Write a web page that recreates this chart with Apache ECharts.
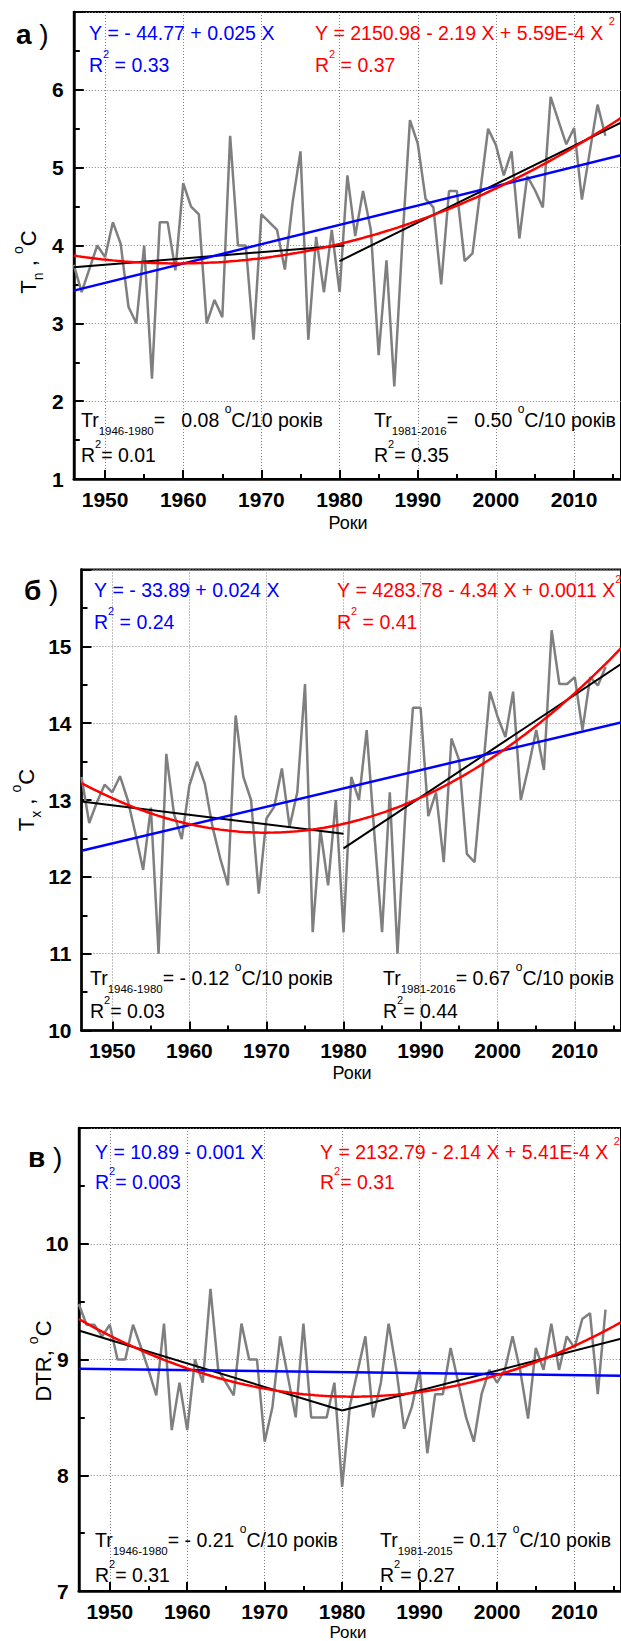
<!DOCTYPE html>
<html>
<head>
<meta charset="utf-8">
<script src="https://cdn.jsdelivr.net/npm/echarts@6/dist/echarts.min.js"></script>
<style>
html,body{margin:0;padding:0;background:#fff;}
#chart{width:621px;height:1641px;}
</style>
</head>
<body>
<div id="chart"></div>
<script>
// ---------------- data ----------------
const years = [1946,1947,1948,1949,1950,1951,1952,1953,1954,1955,1956,1957,1958,1959,1960,1961,1962,1963,1964,1965,
  1966,1967,1968,1969,1970,1971,1972,1973,1974,1975,1976,1977,1978,1979,1980,1981,1982,1983,1984,1985,
  1986,1987,1988,1989,1990,1991,1992,1993,1994,1995,1996,1997,1998,1999,2000,2001,2002,2003,2004,2005,
  2006,2007,2008,2009,2010,2011,2012,2013,2014];

const tnValues = [3.75,3.40,3.70,4.00,3.85,4.30,4.02,3.21,3.00,4.00,2.29,4.30,4.30,3.68,4.80,4.50,4.40,3.00,3.30,3.08,
  5.41,4.00,4.00,2.79,4.40,4.30,4.20,3.69,4.56,5.21,2.79,4.11,3.40,4.20,3.40,4.90,4.12,4.70,4.20,2.59,
  3.81,2.19,4.00,5.61,5.31,4.60,4.49,3.50,4.70,4.70,3.80,3.90,4.70,5.50,5.29,4.90,5.21,4.09,4.89,4.71,
  4.49,5.91,5.60,5.30,5.51,4.59,5.20,5.81,5.41];

const txValues = [13.30,12.70,12.97,13.20,13.10,13.31,13.00,12.56,12.09,12.90,11.00,13.60,12.82,12.49,13.19,13.50,13.21,12.65,12.24,11.89,
  14.10,13.30,13.00,11.78,12.76,12.91,13.41,12.65,13.10,14.51,11.28,12.61,11.89,13.00,11.28,13.30,13.00,13.91,12.56,11.28,
  13.10,11.00,12.80,14.20,14.20,12.79,13.10,12.19,13.80,13.52,12.30,12.19,13.30,14.41,14.08,13.82,14.41,13.00,13.43,13.91,
  13.39,15.21,14.51,14.51,14.60,13.91,14.60,14.49,14.73];

const dtrValues = [9.48,9.30,9.30,9.20,9.30,9.00,9.00,9.30,9.11,8.91,8.69,9.31,8.39,8.80,8.39,9.00,8.80,9.61,8.91,8.80,
  8.69,9.31,9.00,9.00,8.29,8.59,9.20,8.85,8.50,9.31,8.50,8.50,8.50,8.80,7.90,8.60,8.90,9.20,8.50,8.80,
  9.31,8.91,8.40,8.59,8.91,8.19,8.70,8.70,9.10,8.80,8.50,8.29,8.70,8.91,8.80,8.91,9.20,8.90,8.49,9.10,
  8.91,9.31,8.91,9.20,9.10,9.35,9.40,8.70,9.43];

// tick labels
const yearTicks = [1950,1960,1970,1980,1990,2000,2010];
const yearMinorTicks = [1950,1955,1960,1965,1970,1975,1980,1985,1990,1995,2000,2005,2010,2015];

// trend lines ([year, value])
const tnLinear = [[1946,3.42],[2016,5.16]];
const tnQuad = [4.02, 0.0241, 0.00058];      // a + b(t-1980) + c(t-1980)^2
const tnSeg1 = [[1946,3.72],[1980.6,4.00]];
const tnSeg2 = [[1980,3.80],[2016,5.58]];

const txLinear = [[1946,12.34],[2016,14.01]];
const txQuad = [12.69, 0.0228, 0.00113];
const txSeg1 = [[1946,12.98],[1980,12.56]];
const txSeg2 = [[1980,12.37],[2016,14.77]];

const dtrLinear = [[1946,8.92],[2016,8.86]];
const dtrQuad = [8.68, -0.00147, 0.000536];
const dtrSeg1 = [[1946,9.25],[1980,8.56]];
const dtrSeg2 = [[1980,8.56],[2016,9.18]];

// ---------------- chart ----------------
const FF = "'Liberation Sans', Arial, Helvetica, sans-serif";
const NB = '\u00a0';
function sp(s){ return s.replace(/ /g, NB); }

function quadCurve(coef, center, from, to){
  const pts = [];
  for (let x = from; x <= to + 1e-9; x += 0.5) {
    const t = x - center;
    pts.push([x, coef[0] + coef[1]*t + coef[2]*t*t]);
  }
  return pts;
}

const layout = [
  {left:73.8, top:12,    width:563.5, height:467, min:1,  max:7},
  {left:81.5, top:569.5, width:558,   height:461, min:10, max:16},
  {left:78.8, top:1128,  width:556.5, height:463, min:7,  max:11}
];
const panelData = [
  {vals: tnValues,  lin: tnLinear,  quad: tnQuad,  s1: tnSeg1,  s2: tnSeg2},
  {vals: txValues,  lin: txLinear,  quad: txQuad,  s1: txSeg1,  s2: txSeg2},
  {vals: dtrValues, lin: dtrLinear, quad: dtrQuad, s1: dtrSeg1, s2: dtrSeg2}
];

const grids = [], xAxes = [], yAxes = [], series = [];
const dotted = {color:'#808080', width:1, type:[1,2]};

layout.forEach((L, i) => {
  grids.push({left:L.left, top:L.top, width:L.width, height:L.height,
    show:true, borderColor:'#000', borderWidth:2, backgroundColor:'transparent', containLabel:false});
  xAxes.push({
    gridIndex:i, type:'value', min:1946, max:2016, position:'bottom',
    axisLine:{show:true, onZero:false, lineStyle:{color:'#000', width:2.5}},
    axisTick:{show:true, inside:true, length:9, customValues: yearTicks, lineStyle:{color:'#000', width:2}},
    axisLabel:{show:true, customValues: yearTicks, margin:10, fontSize:21, lineHeight:20, fontWeight:'bold', color:'#000', fontFamily:FF,
      formatter: v => String(v)},
    splitLine:{show:true, lineStyle:dotted}
  });
  xAxes.push({
    gridIndex:i, type:'value', min:1946, max:2016, position:'bottom', offset:0,
    axisLine:{show:false}, axisLabel:{show:false}, splitLine:{show:false},
    axisTick:{show:true, inside:true, length:5, customValues: yearMinorTicks, lineStyle:{color:'#000', width:2}}
  });
  yAxes.push({
    gridIndex:i, type:'value', min:L.min, max:L.max, interval:1,
    axisLine:{show:true, onZero:false, lineStyle:{color:'#000', width:2.5}},
    axisTick:{show:true, inside:true, length:10, lineStyle:{color:'#000', width:2}},
    minorTick:{show:true, splitNumber:2, length:6, lineStyle:{color:'#000', width:2}},
    axisLabel:{show:true, margin:10, fontSize:21, fontWeight:'bold', color:'#000', fontFamily:FF, showMaxLabel:false},
    splitLine:{show:true, lineStyle:dotted}
  });
  const P = panelData[i];
  const base = {type:'line', xAxisIndex:2*i, yAxisIndex:i, showSymbol:false, symbol:'none', animation:false, silent:true};
  series.push(Object.assign({}, base, {data: years.map((y,k)=>[y, P.vals[k]]), lineStyle:{color:'#7f7f7f', width:2.5}, z:2}));
  series.push(Object.assign({}, base, {data: P.s1, lineStyle:{color:'#000', width:2}, z:3}));
  series.push(Object.assign({}, base, {data: P.s2, lineStyle:{color:'#000', width:2}, z:3}));
  series.push(Object.assign({}, base, {data: P.lin, lineStyle:{color:'#0000ff', width:2.5}, z:4}));
  series.push(Object.assign({}, base, {data: quadCurve(P.quad, 1980, 1946, 2016), lineStyle:{color:'#ff0000', width:2.5}, z:5}));
});

function richFor(color){
  return {
    m:   {fontSize:19.5, fontFamily:FF, fill:color, lineHeight:34},
    s2:  {fontSize:11, fontFamily:FF, fill:color, lineHeight:20, verticalAlign:'top'},
    s3:  {fontSize:11, fontFamily:FF, fill:color, lineHeight:12, verticalAlign:'top'},
    deg: {fontSize:12, fontFamily:FF, fill:color, lineHeight:24, verticalAlign:'top'},
    sub: {fontSize:11.5, fontFamily:FF, fill:color, lineHeight:12, verticalAlign:'bottom'},
    yn:  {fontSize:22, fontFamily:FF, fill:color, lineHeight:34},
    ys:  {fontSize:14, fontFamily:FF, fill:color, lineHeight:12, verticalAlign:'bottom'},
    yd:  {fontSize:14, fontFamily:FF, fill:color, lineHeight:24, verticalAlign:'top'},
    lb:  {fontSize:28, fontFamily:FF, fontWeight:'bold', fill:color, lineHeight:34},
    lp:  {fontSize:28, fontFamily:FF, fill:color, lineHeight:34},
    ax:  {fontSize:18, fontFamily:FF, fill:color, lineHeight:18},
    axs: {fontSize:17, fontFamily:FF, fill:color, lineHeight:16}
  };
}
function txt(x, y, text, color, extra){
  return Object.assign({
    type:'text', x:x, y:y, silent:true, z:100,
    style:{text: sp(text), rich: richFor(color), fill: color, font: '19px ' + FF,
      align:'left', verticalAlign:'middle', textAlign:'left', textVerticalAlign:'middle'}
  }, extra || {});
}
function rot(x, y, text){
  const e = txt(x, y, text, '#000', {rotation: Math.PI/2});
  e.style.align = 'center'; e.style.textAlign = 'center';
  return e;
}
function ctr(x, y, text){
  const e = txt(x, y, text, '#000');
  e.style.align = 'center'; e.style.textAlign = 'center';
  return e;
}
const BLUE = '#0000ff', RED = '#ff0000', BLK = '#000000';

const texts = [
  // panel a
  txt(16, 34, '{lb|а}{lp| )}', BLK),
  txt(89, 32.5, '{m|Y = - 44.77 + 0.025 X}', BLUE),
  txt(89, 65, '{m|R}{s2|2}{m| = 0.33}', BLUE),
  txt(315, 32.5, '{m|Y = 2150.98 - 2.19 X + 5.59E-4 X }{s3|2}', RED),
  txt(315, 65, '{m|R}{s2|2}{m| = 0.37}', RED),
  txt(81, 420, '{m|Tr}{sub|1946-1980}{m|=   0.08 }{deg|o}{m|C/10 років}', BLK),
  txt(81, 455, '{m|R}{s2|2}{m|= 0.01}', BLK),
  txt(374, 420, '{m|Tr}{sub|1981-2016}{m|=   0.50 }{deg|o}{m|C/10 років}', BLK),
  txt(374, 455, '{m|R}{s2|2}{m|= 0.35}', BLK),
  ctr(348, 523, '{ax|Роки}'),
  rot(28, 262, '{yn|T}{ys|n}{yn| , }{yd|o}{yn|C}'),
  // panel b
  txt(24, 590, '{lb|б}{lp| )}', BLK),
  txt(94, 590, '{m|Y = - 33.89 + 0.024 X}', BLUE),
  txt(94, 622, '{m|R}{s2|2}{m| = 0.24}', BLUE),
  txt(337, 590, '{m|Y = 4283.78 - 4.34 X + 0.0011 X}{s3|2}', RED),
  txt(337, 622, '{m|R}{s2|2}{m| = 0.41}', RED),
  txt(90, 978, '{m|Tr}{sub|1946-1980}{m|= - 0.12 }{deg|o}{m|C/10 років}', BLK),
  txt(90, 1011, '{m|R}{s2|2}{m|= 0.03}', BLK),
  txt(383, 978, '{m|Tr}{sub|1981-2016}{m|= 0.67 }{deg|o}{m|C/10 років}', BLK),
  txt(383, 1011, '{m|R}{s2|2}{m|= 0.44}', BLK),
  ctr(352, 1073, '{ax|Роки}'),
  rot(26, 800, '{yn|T}{ys|x}{yn| , }{yd|o}{yn|C}'),
  // panel c
  txt(28, 1157, '{lb|в}{lp| )}', BLK),
  txt(95, 1152, '{m|Y = 10.89 - 0.001 X}', BLUE),
  txt(95, 1182, '{m|R}{s2|2}{m|= 0.003}', BLUE),
  txt(320, 1152, '{m|Y = 2132.79 - 2.14 X + 5.41E-4 X }{s3|2}', RED),
  txt(320, 1182, '{m|R}{s2|2}{m|= 0.31}', RED),
  txt(95, 1540, '{m|Tr}{sub|1946-1980}{m|= - 0.21 }{deg|o}{m|C/10 років}', BLK),
  txt(95, 1575, '{m|R}{s2|2}{m|= 0.31}', BLK),
  txt(380, 1540, '{m|Tr}{sub|1981-2015}{m|= 0.17 }{deg|o}{m|C/10 років}', BLK),
  txt(380, 1575, '{m|R}{s2|2}{m|= 0.27}', BLK),
  ctr(348, 1632, '{axs|Роки}'),
  rot(43, 1361, '{yn|DTR, }{yd|o}{yn|C}')
];

const chart = echarts.init(document.getElementById('chart'), null, {renderer:'svg', width:621, height:1641});
chart.setOption({
  backgroundColor:'#ffffff',
  animation:false,
  grid: grids,
  xAxis: xAxes,
  yAxis: yAxes,
  series: series,
  graphic: texts
});
</script>
</body>
</html>
